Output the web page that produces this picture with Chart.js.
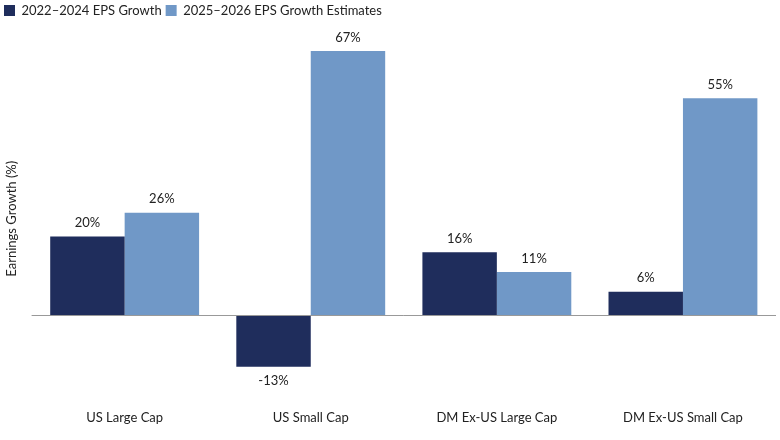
<!DOCTYPE html>
<html><head><meta charset="utf-8">
<script src="https://cdn.jsdelivr.net/npm/chart.js@4/dist/chart.umd.min.js"></script>
<style>body{margin:0;background:#fff}#w{width:780px;height:440px}</style></head>
<body><div id="w"><canvas id="c"></canvas></div>
<script>
const categories = ["US Large Cap","US Small Cap","DM Ex-US Large Cap","DM Ex-US Small Cap"];
const seriesNames = ["2022\u20132024 EPS Growth","2025\u20132026 EPS Growth Estimates"];
const growth2224 = [20,-13,16,6];
const growth2526 = [26,67,11,55];
const colors = ["#1f2d5c","#7098c7"];
const FONT = "Lato";
const labelPlugin = {
  id:"lbl",
  afterDatasetsDraw(chart){
    const ctx=chart.ctx; ctx.save();
    ctx.font="13px "+FONT; ctx.fillStyle="#222"; ctx.textAlign="center";
    chart.data.datasets.forEach((ds,i)=>{
      chart.getDatasetMeta(i).data.forEach((b,j)=>{
        const v=ds.data[j];
        if(v>=0){ctx.textBaseline="bottom";ctx.fillText(v+"%",b.x,b.y-7);}
        else{ctx.textBaseline="top";ctx.fillText(v+"%",b.x,b.y+8);}
      });
    });
    const y=chart.scales.y.getPixelForValue(0);
    ctx.strokeStyle="#999";ctx.lineWidth=1;ctx.beginPath();
    ctx.moveTo(chart.chartArea.left,Math.round(y)+0.5);ctx.lineTo(chart.chartArea.right,Math.round(y)+0.5);ctx.stroke();
    ctx.restore();
  }
};
const legendSpace = {id:"ls",beforeInit(chart){const fit=chart.legend.fit;chart.legend.fit=function(){fit.bind(chart.legend)();this.height+=16;};}};
new Chart(document.getElementById("c"),{
  type:"bar",
  data:{labels:categories,datasets:[
    {label:seriesNames[0],data:growth2224,backgroundColor:colors[0]},
    {label:seriesNames[1],data:growth2526,backgroundColor:colors[1]}]},
  options:{responsive:true,maintainAspectRatio:false,animation:false,
    layout:{padding:{left:0,right:4,top:0,bottom:6}},
    categoryPercentage:0.8,barPercentage:1,
    plugins:{legend:{position:"top",align:"start",labels:{boxWidth:11,boxHeight:11,padding:4,color:"#222",font:{family:FONT,size:13}}},tooltip:{enabled:false}},
    scales:{
      x:{grid:{display:false},border:{display:false},ticks:{color:"#222",font:{family:FONT,size:13},padding:8}},
      y:{min:-20,max:69,grid:{display:false},border:{display:false},ticks:{display:false},
        title:{display:true,text:"Earnings Growth (%)",color:"#222",font:{family:FONT,size:13}}}
    }},
  plugins:[labelPlugin,legendSpace]
});
</script></body></html>
